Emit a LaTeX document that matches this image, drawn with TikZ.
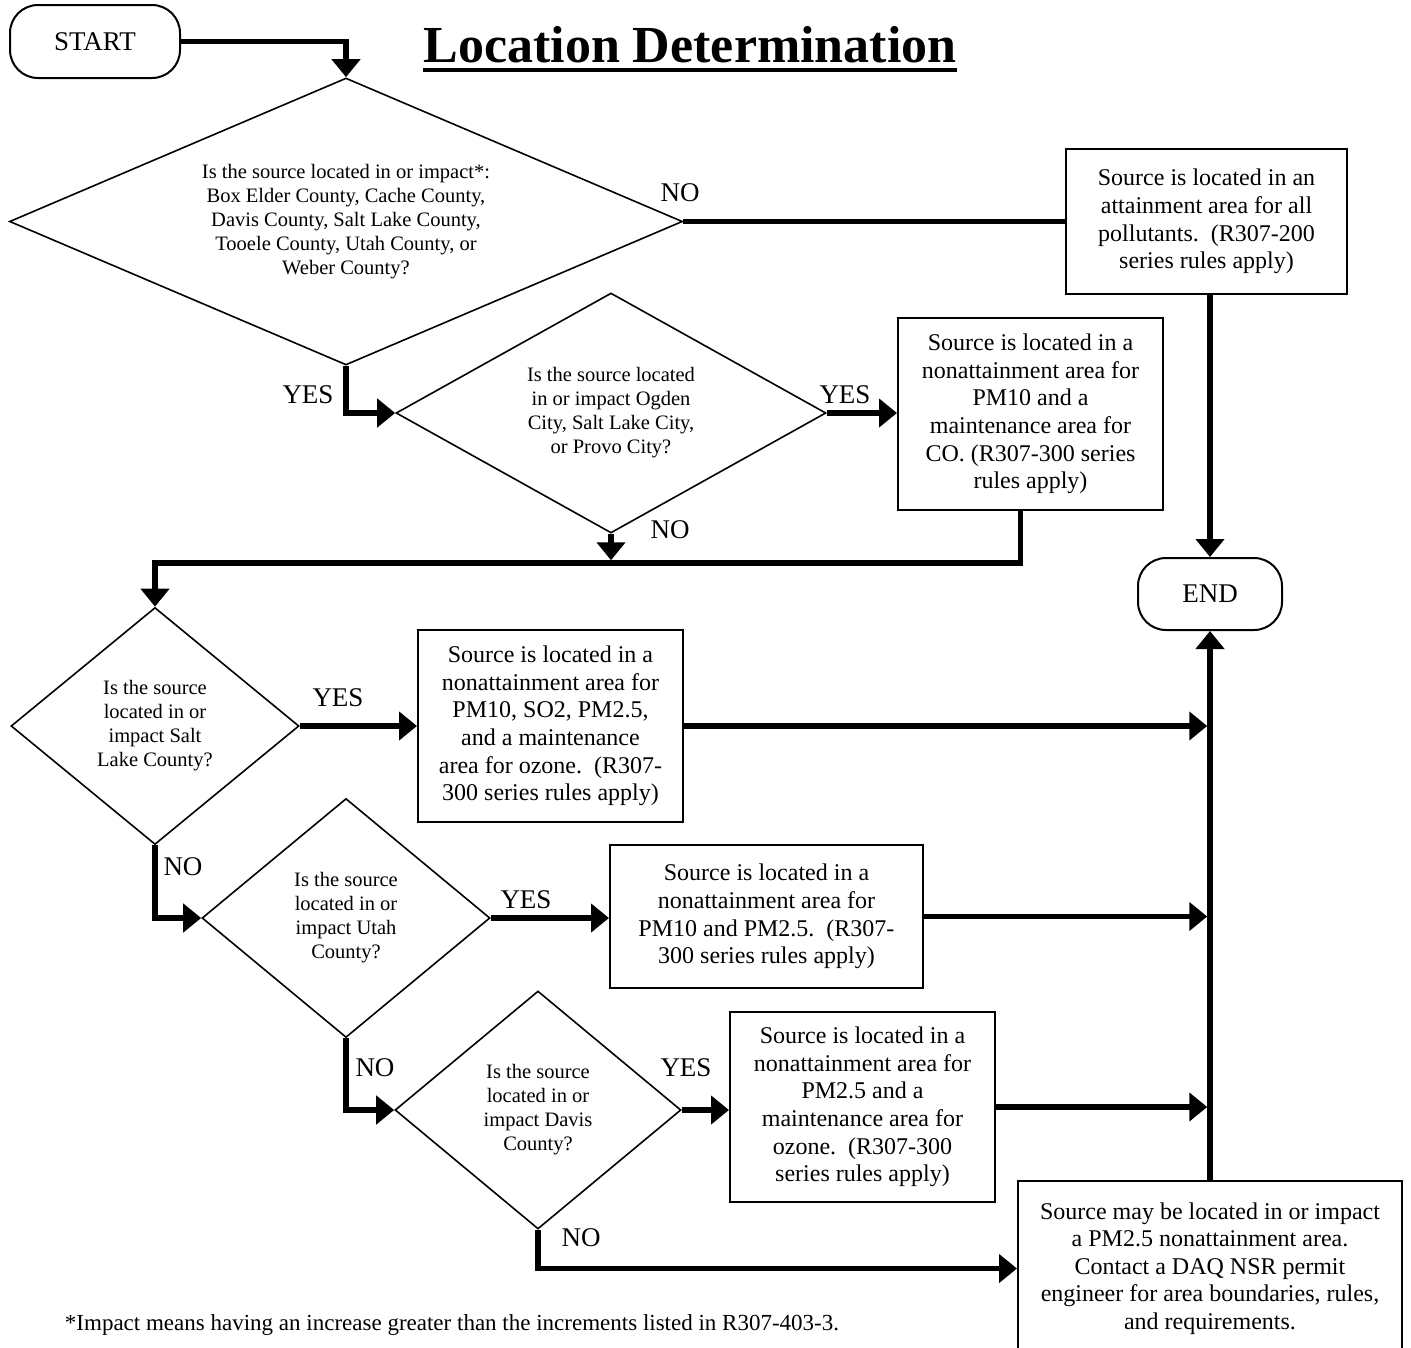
\documentclass[tikz,border=0pt]{standalone}
\usepackage{fontspec}
\setmainfont{Liberation Serif}
\usetikzlibrary{shapes.geometric,arrows.meta}

\newcommand\askfont{\fontsize{20.5}{24}\selectfont}
\newcommand\infofont{\fontsize{24}{27.6}\selectfont}
\newcommand\tagfont{\fontsize{27}{30}\selectfont}

\begin{document}
\begin{tikzpicture}[x=1pt, y=-1pt,
  ask/.style={diamond, draw, line width=1.6pt, inner sep=0pt, align=center, font=\askfont},
  info/.style={rectangle, draw, line width=2pt, inner sep=0pt, align=center, font=\infofont},
  term/.style={draw, line width=2pt, rounded corners=28pt, font=\tagfont, minimum width=170pt, minimum height=73pt},
  tag/.style={inner sep=0pt, font=\tagfont},
  link/.style={line width=5.5pt},
  flow/.style={link, -{Triangle[length=18pt,width=28pt]}}]
\useasboundingbox (0,0) rectangle (1411,1347);
\clip (0,0) rectangle (1411,1347);

% title
\node[inner sep=0pt, anchor=base, font=\fontsize{52}{60}\selectfont\bfseries] (ttl) at (690,62) {Location Determination};
\draw[line width=4.5pt] ([yshift=-8pt]ttl.base west) -- ([yshift=-8pt]ttl.base east);

\node[term] (start) at (95,41.5) {START};
\node[term, minimum width=144pt, minimum height=72pt] (end) at (1210,594) {END};

% questions
\node[ask, minimum width=673pt, minimum height=287pt, shape aspect=2.34] (d1) at (346,221.5)
  {Is the source located in or impact*:\\Box Elder County, Cache County,\\Davis County, Salt Lake County,\\Tooele County, Utah County, or\\Weber County?};
\node[ask, minimum width=430pt, minimum height=240pt, shape aspect=1.79] (d2) at (611,413)
  {Is the source located\\in or impact Ogden\\City, Salt Lake City,\\or Provo City?};
\node[ask, minimum width=288pt, minimum height=237pt, shape aspect=1.21] (d3) at (155,726)
  {Is the source\\located in or\\impact Salt\\Lake County?};
\node[ask, minimum width=288pt, minimum height=239pt, shape aspect=1.21] (d4) at (346,918)
  {Is the source\\located in or\\impact Utah\\County?};
\node[ask, minimum width=286pt, minimum height=238pt, shape aspect=1.21] (d5) at (538,1110)
  {Is the source\\located in or\\impact Davis\\County?};

% outcomes
\node[info, minimum width=281pt, minimum height=145pt] (attain) at (1206.5,221.5)
  {Source is located in an\\attainment area for all\\pollutants.~~(R307-200\\series rules apply)};
\node[info, minimum width=265pt, minimum height=192pt] (co) at (1030.5,414)
  {Source is located in a\\nonattainment area for\\PM10 and a\\maintenance area for\\CO. (R307-300 series\\rules apply)};
\node[info, minimum width=265pt, minimum height=192pt] (so2) at (550.5,726)
  {Source is located in a\\nonattainment area for\\PM10, SO2, PM2.5,\\and a maintenance\\area for ozone.~~(R307-\\300 series rules apply)};
\node[info, minimum width=313pt, minimum height=143pt] (pm) at (766.5,916.5)
  {Source is located in a\\nonattainment area for\\PM10 and PM2.5.~~(R307-\\300 series rules apply)};
\node[info, minimum width=265pt, minimum height=190pt] (davis) at (862.5,1107)
  {Source is located in a\\nonattainment area for\\PM2.5 and a\\maintenance area for\\ozone.~~(R307-300\\series rules apply)};
\node[info, minimum width=384pt, minimum height=175pt, anchor=north] (contact) at (1210,1180)
  {Source may be located in or impact\\a PM2.5 nonattainment area.\\Contact a DAQ NSR permit\\engineer for area boundaries, rules,\\and requirements.};

\foreach \txt/\x/\y [count=\n] in {NO/680/193, YES/308/395, YES/845/395, NO/670/530,
    YES/338/698, NO/183/867, YES/526/900, NO/375/1068, YES/686/1068, NO/581/1238}
  \node[tag] (ans\n) at (\x,\y) {\txt};

\node[inner sep=0pt, font=\fontsize{23}{27}\selectfont] (note) at (452,1325)
  {*Impact means having an increase greater than the increments listed in R307-403-3.};

\coordinate (bus) at (155,563);

\draw[flow] (start.east) -| (d1.north);
\draw[link] (d1.east) -- (d1.east -| attain.west);
\draw[flow] (d1.south) |- (d2.west);
\draw[flow] (d2.east) -- (d2.east -| co.west);
\draw[flow, shorten >=2.75pt] (d2.south) -- (d2.south |- bus);
\draw[flow] ([xshift=-10pt]co.south) |- (bus) -- (d3.north);
\draw[flow] (d3.east) -- (d3.east -| so2.west);
\draw[flow] (d3.south) |- (d4.west);
\draw[flow] (d4.east) -- (d4.east -| pm.west);
\draw[flow] (d4.south) |- (d5.west);
\draw[flow] (d5.east) -- (d5.east -| davis.west);
\draw[flow] (d5.south) |- (contact.west);

% into the trunk
\foreach \b in {so2, pm, davis}
  \draw[flow, shorten >=2.75pt] (\b.east) -- (\b.east -| end.south);
\draw[flow] (attain.south -| end.north) -- (end.north);
\draw[flow] (contact.north) -- (end.south);
\end{tikzpicture}
\end{document}
